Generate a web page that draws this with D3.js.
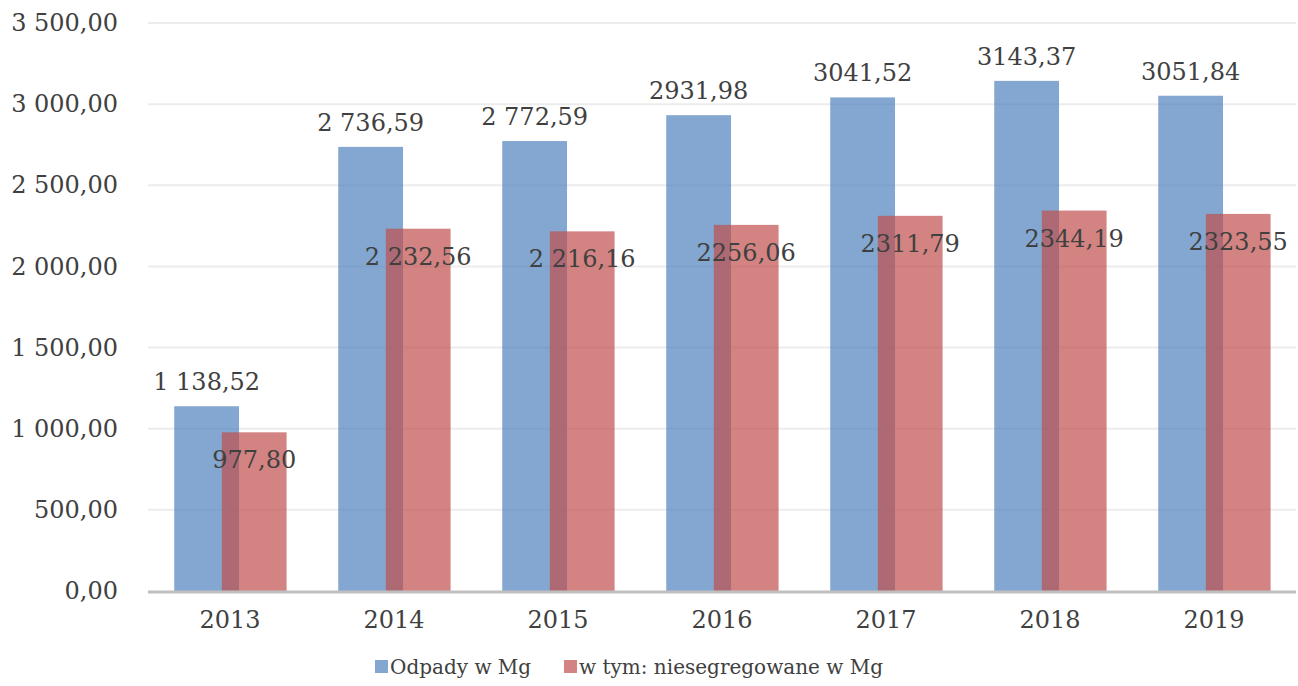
<!DOCTYPE html>
<html>
<head>
<meta charset="utf-8">
<script src="https://cdn.jsdelivr.net/npm/d3@7"></script>
<style>
  body { margin: 0; background: #fff; }
  svg text { font-family: "DejaVu Serif", serif; fill: #404040; }
</style>
</head>
<body>
<svg id="chart" width="1298" height="686"></svg>
<script>
var years = ["2013", "2014", "2015", "2016", "2017", "2018", "2019"];
var odpady = [1138.52, 2736.59, 2772.59, 2931.98, 3041.52, 3143.37, 3051.84];
var niesegregowane = [977.80, 2232.56, 2216.16, 2256.06, 2311.79, 2344.19, 2323.55];
// labels exactly as printed on the chart (spacing is inconsistent in the original)
var odpadyLabels = ["1 138,52", "2 736,59", "2 772,59", "2931,98", "3041,52", "3143,37", "3051,84"];
var niesegLabels = ["977,80", "2 232,56", "2 216,16", "2256,06", "2311,79", "2344,19", "2323,55"];
var yTicks = [0, 500, 1000, 1500, 2000, 2500, 3000, 3500];
var seriesNames = ["Odpady w Mg", "w tym: niesegregowane w Mg"];

var svg = d3.select("#chart");

var x = d3.scaleBand().domain(years).range([148, 1296]).padding(0);
var y = d3.scaleLinear().domain([0, 3500]).range([591, 23]);

var bw = x.bandwidth();
var barW = bw * 0.395;
var blueOff = bw * 0.16;
var redOff = bw * 0.45;

function fmt(v) {
    var s = v.toFixed(2).replace(".", ",");
    var parts = s.split(",");
    var intPart = parts[0].replace(/\B(?=(\d{3})+(?!\d))/g, " ");
    return intPart + "," + parts[1];
}

// gridlines
svg.append("g")
    .selectAll("line")
    .data(yTicks.filter(d => d > 0))
    .enter().append("line")
    .attr("x1", 148).attr("x2", 1296)
    .attr("y1", d => y(d)).attr("y2", d => y(d))
    .attr("stroke", "#ececec")
    .attr("stroke-width", 2);

// y axis labels
var yAxis = d3.axisLeft(y).tickValues(yTicks).tickFormat(fmt).tickSize(0).tickPadding(30);
var gy = svg.append("g").attr("transform", "translate(148,0)").call(yAxis);
gy.select(".domain").remove();
gy.selectAll("text")
    .style("font-family", "DejaVu Serif")
    .style("font-size", "24px")
    .attr("fill", "#595959");

var blue = "#4f81bd", red = "#c0504d";

// bars
svg.append("g").selectAll("rect")
    .data(years)
    .enter().append("rect")
    .attr("x", (d) => x(d) + blueOff)
    .attr("y", (d, i) => y(odpady[i]))
    .attr("width", barW)
    .attr("height", (d, i) => y(0) - y(odpady[i]))
    .attr("fill", blue)
    .attr("fill-opacity", 0.7);

svg.append("g").selectAll("rect")
    .data(years)
    .enter().append("rect")
    .attr("x", (d) => x(d) + redOff)
    .attr("y", (d, i) => y(niesegregowane[i]))
    .attr("width", barW)
    .attr("height", (d, i) => y(0) - y(niesegregowane[i]))
    .attr("fill", red)
    .attr("fill-opacity", 0.7);

// baseline
svg.append("line")
    .attr("x1", 148).attr("x2", 1296)
    .attr("y1", y(0) + 1).attr("y2", y(0) + 1)
    .attr("stroke", "#bfbfbf")
    .attr("stroke-width", 3);

// x axis labels
var xAxis = d3.axisBottom(x).tickSize(0).tickPadding(20);
var gx = svg.append("g").attr("transform", "translate(0," + y(0) + ")").call(xAxis);
gx.select(".domain").remove();
gx.selectAll("text")
    .style("font-family", "DejaVu Serif")
    .style("font-size", "24px")
    .attr("fill", "#595959");

// data labels
svg.append("g").selectAll("text")
    .data(years)
    .enter().append("text")
    .attr("x", (d) => x(d) + blueOff + barW / 2)
    .attr("y", (d, i) => y(odpady[i]) - 16)
    .attr("text-anchor", "middle")
    .style("font-size", "24px")
    .text((d, i) => odpadyLabels[i]);

svg.append("g").selectAll("text")
    .data(years)
    .enter().append("text")
    .attr("x", (d) => x(d) + redOff + barW / 2)
    .attr("y", (d, i) => y(niesegregowane[i]) + 36)
    .attr("text-anchor", "middle")
    .style("font-size", "24px")
    .text((d, i) => niesegLabels[i]);

// legend
var legend = svg.append("g");
var legItems = [{ name: seriesNames[0], color: blue, x: 375 }, { name: seriesNames[1], color: red, x: 564 }];
legItems.forEach(function (it) {
    legend.append("rect")
        .attr("x", it.x).attr("y", 660)
        .attr("width", 13).attr("height", 13)
        .attr("fill", it.color).attr("fill-opacity", 0.7);
    legend.append("text")
        .attr("x", it.x + 15).attr("y", 674)
        .style("font-size", "20px")
        .attr("fill", "#595959")
        .text(it.name);
});
</script>
</body>
</html>
